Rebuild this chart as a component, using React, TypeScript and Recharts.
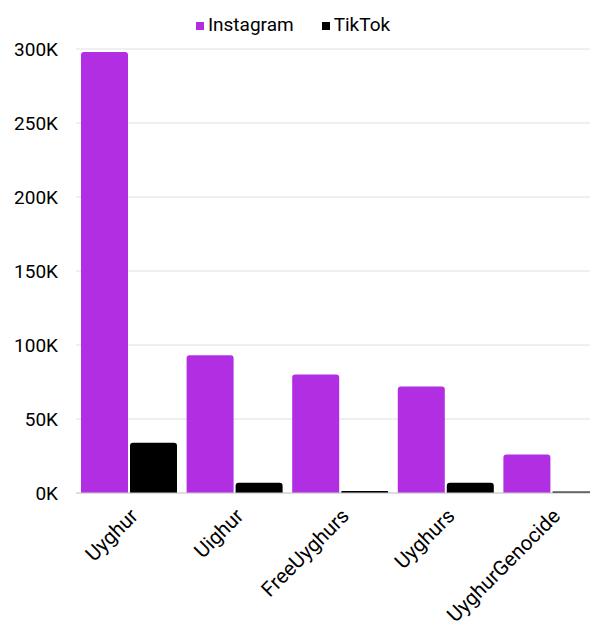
import { BarChart, Bar, XAxis, YAxis, CartesianGrid, Legend } from 'recharts';

const hashtags = ['Uyghur', 'Uighur', 'FreeUyghurs', 'Uyghurs', 'UyghurGenocide'];
const instagramPosts = [298000, 93000, 80000, 72000, 26000];
const tiktokPosts = [34000, 7000, 1300, 7000, 1000];
const yTicks = [0, 50000, 100000, 150000, 200000, 250000, 300000];

const data = hashtags.map((name, i) => ({
  name,
  Instagram: instagramPosts[i],
  TikTok: tiktokPosts[i],
}));

const font = 'Roboto, sans-serif';

export default function App() {
  return (
    <div style={{ fontFamily: font, width: 590, height: 632, overflow: 'hidden' }}>
      <style>{'body{margin:0}'}</style>
      <BarChart
        width={606}
        height={632}
        data={data}
        margin={{ top: 10, right: 2, bottom: 0, left: 0 }}
        barCategoryGap={5}
        barGap={2}
      >
        <CartesianGrid vertical={false} stroke="#e0e0e0" />
        <XAxis
          dataKey="name"
          angle={-45}
          textAnchor="end"
          interval={0}
          height={139}
          tickLine={false}
          tickSize={0}
          tickMargin={14}
          axisLine={{ stroke: '#cccccc' }}
          tick={{ fill: '#000', fontSize: 20.5, fontFamily: font }}
        />
        <YAxis
          width={76}
          domain={[0, 300000]}
          ticks={yTicks}
          tickFormatter={(v: number) => `${v / 1000}K`}
          axisLine={false}
          tickLine={false}
          tickSize={0}
          tickMargin={18}
          tick={{ fill: '#000', fontSize: 19, fontFamily: font }}
        />
        <Legend
          verticalAlign="top"
          height={39}
          iconType="square"
          iconSize={8}
          wrapperStyle={{ fontSize: 19, color: '#000', left: 0, width: 596, top: 13 }}
          formatter={(value: string) => (
            <span style={{ color: '#000', marginRight: value === 'Instagram' ? 18 : 0 }}>{value}</span>
          )}
        />
        <Bar dataKey="Instagram" fill="#b22ee3" radius={[3, 3, 0, 0]} isAnimationActive={false} />
        <Bar dataKey="TikTok" fill="#000000" radius={[3, 3, 0, 0]} isAnimationActive={false} />
      </BarChart>
    </div>
  );
}
